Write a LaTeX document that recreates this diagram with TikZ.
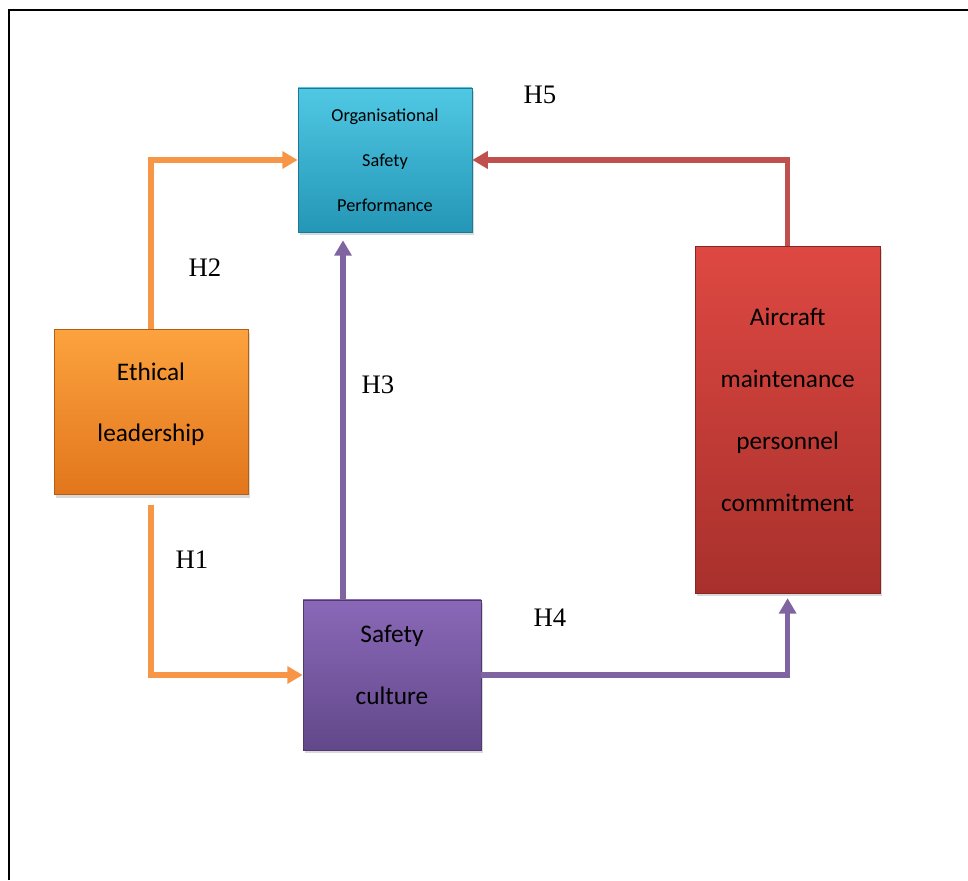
\documentclass[tikz,border=0pt]{standalone}
\usepackage{fontspec}
\setmainfont{Carlito}
\newfontfamily\hypfont{Liberation Serif}
\usetikzlibrary{arrows.meta, shadows, calc, positioning}
\definecolor{tealTop}{RGB}{80,200,228}
\definecolor{tealBot}{RGB}{36,150,182}
\definecolor{orangeTop}{RGB}{252,162,62}
\definecolor{orangeBot}{RGB}{226,118,28}
\definecolor{purpleTop}{RGB}{138,104,184}
\definecolor{purpleBot}{RGB}{98,72,138}
\definecolor{redTop}{RGB}{222,72,66}
\definecolor{redBot}{RGB}{168,48,44}
\definecolor{orangeLine}{HTML}{F79646}
\definecolor{purpleLine}{HTML}{8064A2}
\definecolor{redLine}{HTML}{C0504D}
\tikzset{factor/.style={rectangle, inner sep=0pt, align=center,
      drop shadow={opacity=0.3, shadow xshift=0.5mm, shadow yshift=-0.8mm}},
    link/.style={line width=3.6pt, -{Triangle[length=11pt,width=12pt]}},
    hyp/.style={font=\hypfont\fontsize{19}{22}\selectfont, inner sep=0pt}}

\begin{document}
\begin{tikzpicture}[
    big/.style={font=\fontsize{18}{44}\selectfont, text depth=14pt},
    small/.style={font=\fontsize{13}{32}\selectfont}
  ]
  \useasboundingbox (0,0) rectangle (24.2,22);
  % frame
  \draw[line width=1.4pt] (0.225,0) -- (0.225,21.75) -- (24.2,21.75);

  \node[factor, small, top color=tealTop, bottom color=tealBot, draw=tealBot!80!black,
    minimum width=4.35cm, minimum height=3.6cm] (osp) at (9.625,18) {Organisational\\Safety\\Performance};
  \node[factor, big, top color=orangeTop, bottom color=orangeBot, draw=orangeBot!80!black,
    minimum width=4.85cm, minimum height=4.125cm] (el) at (3.775,11.7) {Ethical\\leadership};
  \node[factor, big, top color=purpleTop, bottom color=purpleBot, draw=purpleBot!80!black,
    minimum width=4.45cm, minimum height=3.75cm] (sc) at (9.8,5.125) {Safety\\culture};
  \node[factor, big, top color=redTop, bottom color=redBot, draw=redBot!80!black,
    minimum width=4.625cm, minimum height=8.675cm] (ac) at (19.69,11.51) {Aircraft\\maintenance\\personnel\\commitment};

  % hypothesised paths
  \draw[link, orangeLine] (el.north) |- (osp.west);
  \draw[link, orangeLine, shorten <=0.25cm] (el.south) |- (sc.west);
  \draw[link, purpleLine, shorten >=0.2cm] ([xshift=-1.225cm]sc.north) -- ([xshift=-1.225cm]sc.north |- osp.south);
  \draw[link, purpleLine, shorten >=0.12cm] (sc.east) -| (ac.south);
  \draw[link, redLine] (ac.north) |- (osp.east);

  % hypothesis labels
  \node[hyp] (h1) at (4.8,8.0) {H1};
  \node[hyp] (h2) at (5.125,15.3) {H2};
  \node[hyp] (h3) at (9.45,12.375) {H3};
  \node[hyp] (h4) at (13.75,6.55) {H4};
  \node[hyp] (h5) at (13.5,19.625) {H5};
\end{tikzpicture}
\end{document}
